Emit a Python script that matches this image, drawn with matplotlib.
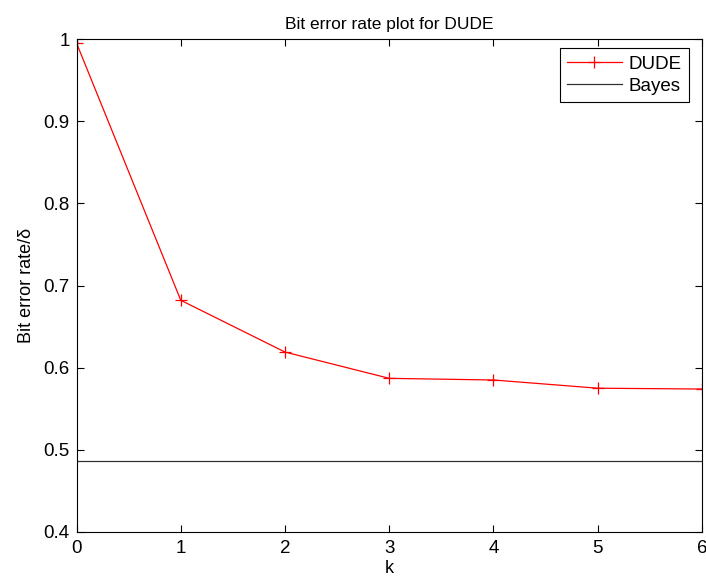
import numpy as np
import matplotlib
matplotlib.use('Agg')
import matplotlib.pyplot as plt

plt.rcParams['font.family'] = ['Liberation Sans', 'DejaVu Sans']

k = [0, 1, 2, 3, 4, 5, 6]
dude = [0.995, 0.682, 0.619, 0.587, 0.585, 0.575, 0.574]
bayes = 0.487

fig = plt.figure(figsize=(7.06, 5.78), dpi=100)
ax = fig.add_axes([0.1084, 0.0796, 0.8859, 0.8529])

ax.plot(k, dude, color='red', lw=0.9, marker='+', ms=8, mew=0.9, label='DUDE')
ax.axhline(bayes, color='#333333', lw=0.9, label='Bayes')

ax.set_xlim(0, 6)
ax.set_ylim(0.4, 1.0)
ax.set_xticks(range(0, 7))
ax.set_yticks([0.4, 0.5, 0.6, 0.7, 0.8, 0.9, 1.0])
ax.set_yticklabels(['0.4', '0.5', '0.6', '0.7', '0.8', '0.9', '1'])
ax.tick_params(direction='in', top=True, right=True, labelsize=13.5, length=5)
ax.tick_params(axis='x', pad=6)
ax.tick_params(axis='y', pad=5)
for s in ax.spines.values():
    s.set_linewidth(0.8)

ax.set_xlabel('k', fontsize=13, labelpad=2)
ax.set_ylabel('Bit error rate/\u03b4', fontsize=13, labelpad=6)
ax.set_title('Bit error rate plot for DUDE', fontsize=12.5, pad=7)

leg = ax.legend(loc='upper right', bbox_to_anchor=(0.994, 1), fontsize=13.5,
                fancybox=False, edgecolor='black', framealpha=1,
                borderaxespad=0.5, handlelength=2.9, handletextpad=0.35,
                labelspacing=0.25, borderpad=0.4)
leg.get_frame().set_linewidth(0.8)

fig.savefig('out.png', dpi=100)
